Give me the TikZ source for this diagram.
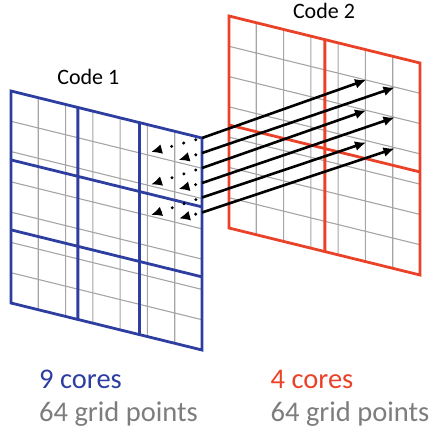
\documentclass[tikz,border=0pt]{standalone}
\usepackage{fontspec}
\setmainfont{Carlito}
\usetikzlibrary{arrows.meta}
\definecolor{coreblue}{RGB}{46,62,160}
\definecolor{corered}{RGB}{234,66,40}
\definecolor{gridgray}{RGB}{165,165,165}
\definecolor{textgray}{RGB}{125,125,125}
\begin{document}
\begin{tikzpicture}[x=1pt,y=-1pt,
  gridline/.style={draw=gridgray,line width=1.1pt},
  blueline/.style={draw=coreblue,line width=2.8pt},
  redline/.style={draw=corered,line width=2.8pt},
  fwd/.style={draw=black,line width=2.6pt,-{Latex[length=11pt,width=10pt]}},
  back/.style={draw=black,line width=3.3pt,line cap=round,dash pattern=on 0pt off 12.5pt,dash phase=6pt,-{Latex[length=11pt,width=10pt]}},
  codelabel/.style={font=\fontsize{22}{26}\selectfont,inner sep=0pt,anchor=base},
  bottomlabel/.style={font=\fontsize{28.5}{32}\selectfont,inner sep=0pt,anchor=base west}]
\useasboundingbox (0,0) rectangle (434,432);
% Code 2 panel (red)
\begin{scope}[shift={(229,16)},x={(191pt,-47pt)},y={(0pt,-212pt)}]
  \foreach \i in {1,...,6} \draw[gridline] (\i/7,0) -- (\i/7,1) (0,\i/7) -- (1,\i/7);
  \draw[redline] (0.502,0) -- (0.502,1) (0,0.514) -- (1,0.514);
  \draw[redline] (0,0) -- (1,0) -- (1,1) -- (0,1) -- cycle;
\end{scope}
% Code 1 panel (blue)
\begin{scope}[shift={(11,91)},x={(191pt,-47pt)},y={(0pt,-212pt)}]
  \foreach \i in {1,...,6} \draw[gridline] (\i/7,0) -- (\i/7,1) (0,\i/7) -- (1,\i/7);
  \draw[blueline] (0.35,0) -- (0.35,1) (0.673,0) -- (0.673,1)
                  (0,0.325) -- (1,0.325) (0,0.655) -- (1,0.655);
  \draw[blueline] (0,0) -- (1,0) -- (1,1) -- (0,1) -- cycle;
\end{scope}
% arrow coordinates
\coordinate (s1) at (202,138);
\coordinate (s2) at (202,153);
\coordinate (s3) at (202,168);
\coordinate (s4) at (202,183);
\coordinate (s5) at (202,197.5);
\coordinate (s6) at (202,212.5);
\coordinate (e1) at (366,80);
\coordinate (e2) at (394.5,87.5);
\coordinate (e3) at (366,110.5);
\coordinate (e4) at (394.5,117.5);
\coordinate (e5) at (366,142.5);
\coordinate (e6) at (394.5,148.5);
\coordinate (d1) at (151,152);
\coordinate (d2) at (178.5,160);
\coordinate (d3) at (151,184.5);
\coordinate (d4) at (178.5,189);
\coordinate (d5) at (151,215);
\coordinate (d6) at (179,218.5);
% dotted arrows into Code 1
\foreach \k in {1,...,6} \draw[back] (s\k) -- (d\k);
% arrows to Code 2
\foreach \k in {1,...,6} \draw[fwd] (s\k) -- (e\k);
% labels
\node[codelabel] (c1) at (88.3,84) {Code 1};
\node[codelabel] (c2) at (324,18.3) {Code 2};
\node[bottomlabel,text=coreblue] (n1) at (39,388.3) {9 cores};
\node[bottomlabel,text=textgray] (g1) at (39,421.7) {64 grid points};
\node[bottomlabel,text=corered] (n2) at (270.5,388.3) {4 cores};
\node[bottomlabel,text=textgray] (g2) at (270.5,421.7) {64 grid points};
\end{tikzpicture}
\end{document}
